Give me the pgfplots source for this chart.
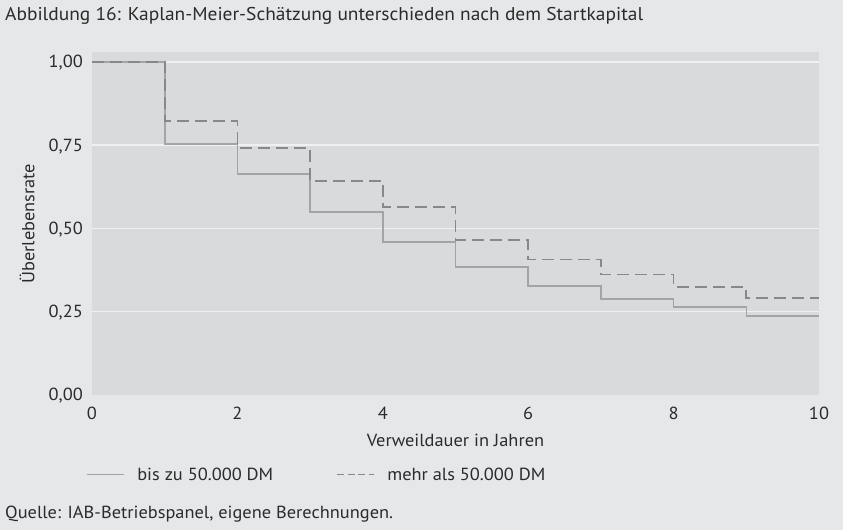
\documentclass[border=0pt]{standalone}
\usepackage{fontspec}
\setmainfont{PT Sans}[FakeStretch=1.05]
\usepackage{pgfplots}
\pgfplotsset{compat=1.18}
\definecolor{bg}{HTML}{E6E7E9}
\definecolor{plotbg}{HTML}{D9DADC}
\definecolor{gridc}{HTML}{EFF0F1}
\definecolor{solidc}{HTML}{A4A4A4}
\definecolor{dashc}{HTML}{888888}
\definecolor{txt}{HTML}{2B2B2B}

\pgfplotstableread{
x y
0 1.000
1 0.753
2 0.664
3 0.549
4 0.460
5 0.385
6 0.328
7 0.289
8 0.265
9 0.238
10 0.238
}\tabsolid

\pgfplotstableread{
x y
0 1.000
1 0.823
2 0.741
3 0.643
4 0.565
5 0.465
6 0.407
7 0.362
8 0.325
9 0.292
10 0.292
}\tabdash

\begin{document}
\fontsize{17.5}{21}\selectfont
\begin{tikzpicture}
\fill[bg] (0pt,0pt) rectangle (843pt,530pt);
\useasboundingbox (0pt,0pt) rectangle (843pt,530pt);
\node[anchor=base west, text=txt, inner sep=0pt, font=\fontsize{18.5}{22}\selectfont] at (5pt,509pt) {Abbildung 16: Kaplan-Meier-Schätzung unterschieden nach dem Startkapital};
\node[anchor=base west, text=txt, inner sep=0pt] at (5pt,12pt) {Quelle: IAB-Betriebspanel, eigene Berechnungen.};
\begin{axis}[
  at={(92pt,135pt)}, anchor=south west,
  scale only axis, width=727pt, height=342.5pt,
  xmin=0, xmax=10, ymin=0, ymax=1.028,
  axis background/.style={fill=plotbg},
  axis line style={draw=none},
  tick style={draw=none},
  xtick={0,2,4,6,8,10},
  ytick={0.25,0.5,0.75,1},
  yticklabels={0{,}25,0{,}50,0{,}75,1{,}00},
  extra y ticks={0},
  extra y tick labels={0{,}00},
  extra y tick style={grid=none},
  ymajorgrids,
  grid style={gridc, line width=1.4pt},
  /pgf/number format/assume math mode=true,
  ticklabel style={font=\fontsize{17.5}{21}\selectfont, text=txt},
  xticklabel style={anchor=center, inner sep=0pt, yshift=-18pt},
  yticklabel style={anchor=base east, inner sep=0pt, xshift=-9pt, yshift=-6pt},
  xlabel={Verweildauer in Jahren},
  ylabel={Überlebensrate},
  label style={font=\fontsize{17.5}{21}\selectfont, text=txt},
  xlabel style={at={(axis description cs:0.5,0)}, anchor=center, yshift=-45pt},
  ylabel style={at={(axis description cs:-0.0894,0.5)}, anchor=center},
  legend columns=2,
  legend style={at={(axis description cs:-0.00825,-0.2365)}, anchor=west,
    draw=none, fill=none, inner sep=0pt,
    font=\fontsize{17.5}{21}\selectfont, text=txt,
    nodes={inner sep=0pt, anchor=base west},
    /tikz/every odd column/.append style={column sep=13pt},
    /tikz/every even column/.append style={column sep=63pt}},
  legend image code/.code={\draw[#1, line width=1.1pt] (0pt,6pt) -- (37pt,6pt);},
  clip=false,
]
\addplot[const plot, solidc, line width=1.6pt] table[x=x,y=y] {\tabsolid};
\addlegendentry{bis zu 50.000 DM}
\addplot[const plot, dashc, line width=1.7pt, dash pattern=on 12pt off 6pt,
  legend image post style={dash pattern=on 7pt off 3.7pt}] table[x=x,y=y] {\tabdash};
\addlegendentry{mehr als 50.000 DM}
\end{axis}
\end{tikzpicture}
\end{document}
